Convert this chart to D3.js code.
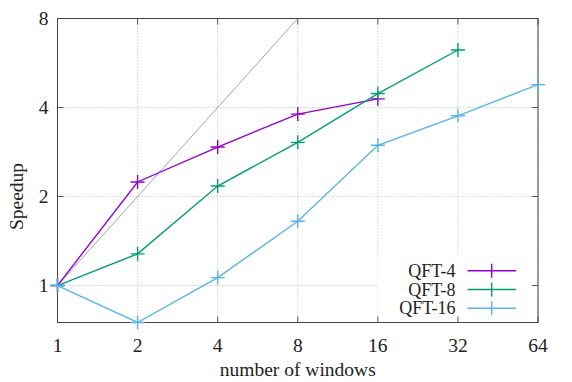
<!DOCTYPE html>
<html>
<head>
<meta charset="utf-8">
<script src="https://cdn.jsdelivr.net/npm/d3@7"></script>
<style>
  body { margin: 0; background: #fff; }
  text { font-family: "Liberation Serif", serif; fill: #222; font-size: 19.5px; }
  text.leg { font-size: 18px; }
</style>
</head>
<body>
<div id="chart"></div>
<script>
var windows = [1, 2, 4, 8, 16, 32, 64];
var xTicks = [1, 2, 4, 8, 16, 32, 64];
var yTicks = [1, 2, 4, 8];
var seriesNames = ["QFT-4", "QFT-8", "QFT-16"];
var seriesColors = ["#9400d3", "#009e73", "#56b4e9"];
var qft4 = [1, 2.24, 2.94, 3.80, 4.28];
var qft8 = [1, 1.28, 2.17, 3.05, 4.46, 6.26];
var qft16 = [1, 0.75, 1.064, 1.65, 2.98, 3.75, 4.78];
var ideal = [1, 2, 4, 8];

var W = 572, H = 382;
var margin = {top: 18.5, right: 34, bottom: 59.5, left: 57.5};
var width = W - margin.left - margin.right;
var height = H - margin.top - margin.bottom;

var x = d3.scaleLog().base(2).domain([1, 64]).range([0, width]);
var y = d3.scaleLog().base(2).domain([0.75, 8]).range([height, 0]);

var svg = d3.select("#chart").append("svg")
    .attr("width", W).attr("height", H)
  .append("g")
    .attr("transform", "translate(" + margin.left + "," + margin.top + ")");

// grid
svg.append("g").selectAll("line").data(xTicks).join("line")
    .attr("x1", d => x(d)).attr("x2", d => x(d))
    .attr("y1", 0).attr("y2", height)
    .attr("stroke", "#b8b8b8").attr("stroke-width", 1)
    .attr("stroke-dasharray", "1,2");
svg.append("g").selectAll("line").data(yTicks).join("line")
    .attr("x1", 0).attr("x2", width)
    .attr("y1", d => y(d)).attr("y2", d => y(d))
    .attr("stroke", "#b8b8b8").attr("stroke-width", 1)
    .attr("stroke-dasharray", "1,2");

// legend box hides grid behind it
svg.append("rect")
    .attr("x", 320).attr("y", 237)
    .attr("width", 153).attr("height", height - 237)
    .attr("fill", "#fff");

// ticks, mirrored on all sides
var tk = 6;
var ticks = svg.append("g").attr("stroke", "#555").attr("stroke-width", 1);
xTicks.forEach(function(d) {
  ticks.append("line").attr("x1", x(d)).attr("x2", x(d)).attr("y1", height).attr("y2", height - tk);
  ticks.append("line").attr("x1", x(d)).attr("x2", x(d)).attr("y1", 0).attr("y2", tk);
});
yTicks.forEach(function(d) {
  ticks.append("line").attr("x1", 0).attr("x2", tk).attr("y1", y(d)).attr("y2", y(d));
  ticks.append("line").attr("x1", width).attr("x2", width - tk).attr("y1", y(d)).attr("y2", y(d));
});

svg.append("rect")
    .attr("width", width).attr("height", height)
    .attr("fill", "none").attr("stroke", "#444").attr("stroke-width", 1);

// tick labels
svg.append("g").selectAll("text").data(xTicks).join("text")
    .attr("x", d => x(d)).attr("y", height + 29)
    .attr("text-anchor", "middle")
    .text(d => d);
svg.append("g").selectAll("text").data(yTicks).join("text")
    .attr("x", -9).attr("y", d => y(d) + 6.5)
    .attr("text-anchor", "end")
    .text(d => d);

svg.append("text")
    .attr("x", width / 2).attr("y", height + 53)
    .attr("text-anchor", "middle")
    .text("number of windows");
svg.append("text")
    .attr("transform", "rotate(-90)")
    .attr("x", -(y(2))).attr("y", -35)
    .attr("text-anchor", "middle")
    .text("Speedup");

// ideal speedup
var line = d3.line().x(d => x(d.x)).y(d => y(d.y));
svg.append("path")
    .datum(ideal.map((v, i) => ({x: windows[i], y: v})))
    .attr("d", line)
    .attr("fill", "none").attr("stroke", "#8a8a8a").attr("stroke-width", 0.8);

var allSeries = [qft4, qft8, qft16];
var ms = 7;
allSeries.forEach(function(vals, k) {
  var pts = vals.map((v, i) => ({x: windows[i], y: v}));
  var g = svg.append("g");
  g.append("path").datum(pts).attr("d", line)
    .attr("fill", "none").attr("stroke", seriesColors[k]).attr("stroke-width", 1.4);
  g.selectAll("path.m").data(pts).join("path").attr("class", "m")
    .attr("d", d => "M" + (x(d.x) - ms) + "," + y(d.y) + "H" + (x(d.x) + ms) +
                    "M" + x(d.x) + "," + (y(d.y) - ms) + "V" + (y(d.y) + ms))
    .attr("stroke", seriesColors[k]).attr("stroke-width", 1.4);
});

// legend
var lg = svg.append("g");
seriesNames.forEach(function(name, k) {
  var ly = 252.2 + k * 18.8;
  lg.append("text").attr("class", "leg").attr("x", 398).attr("y", ly + 6)
    .attr("text-anchor", "end").text(name);
  lg.append("line").attr("x1", 410).attr("x2", 458.5).attr("y1", ly).attr("y2", ly)
    .attr("stroke", seriesColors[k]).attr("stroke-width", 1.4);
  lg.append("line").attr("x1", 434.2).attr("x2", 434.2).attr("y1", ly - ms).attr("y2", ly + ms)
    .attr("stroke", seriesColors[k]).attr("stroke-width", 1.4);
});
</script>
</body>
</html>
